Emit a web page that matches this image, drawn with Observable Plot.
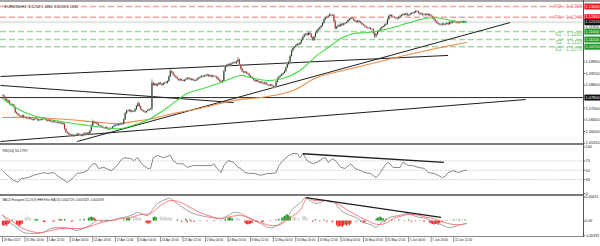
<!DOCTYPE html>
<html>
<head>
<meta charset="utf-8">
<script src="https://cdn.jsdelivr.net/npm/d3@7"></script>
<script src="https://cdn.jsdelivr.net/npm/@observablehq/plot@0.6"></script>
<style>
html,body{margin:0;padding:0;background:#fff;}
#wrap{position:relative;width:600px;height:246px;overflow:hidden;background:#fff;}
#wrap svg{position:absolute;left:0;overflow:visible;}
.sep{position:absolute;}
</style>
</head>
<body>
<div id="wrap"></div>
<script>
// ================= DATA =================
const symbolTitle = "EURUSD,H4  1.1212 1.1220 1.1205 1.1212";
const timeLabels = ["29 Mar 2017","31 Mar 20:00","5 Apr 12:00","10 Apr 04:00","12 Apr 20:00","17 Apr 12:00","20 Apr 04:00","24 Apr 20:00","27 Apr 12:00","2 May 04:00","4 May 20:00","9 May 12:00","12 May 04:00","16 May 20:00","19 May 12:00","24 May 04:00","26 May 20:00","31 May 12:00","5 Jun 04:00","7 Jun 20:00","12 Jun 12:00"];
const timeBars = [0,16,32,48,64,80,96,112,128,144,160,176,192,208,224,240,256,272,288,304,320];

// H4 closes, one per bar
const close = [
1.0800,1.0792,1.0778,1.0765,1.0770,1.0752,1.0745,1.0748,1.0735,1.0705,
1.0698,1.0690,1.0685,1.0680,1.0688,1.0675,1.0678,1.0672,1.0670,1.0676,
1.0668,1.0662,1.0665,1.0671,1.0669,1.0660,1.0664,1.0662,1.0668,1.0673,
1.0666,1.0660,1.0657,1.0662,1.0655,1.0652,1.0658,1.0650,1.0648,1.0652,
1.0645,1.0642,1.0646,1.0640,1.0612,1.0595,1.0588,1.0582,1.0575,1.0580,
1.0572,1.0576,1.0580,1.0585,1.0578,1.0580,1.0574,1.0582,1.0588,1.0584,
1.0590,1.0585,1.0602,1.0630,1.0652,1.0645,1.0648,1.0640,1.0632,1.0628,
1.0625,1.0620,1.0617,1.0622,1.0614,1.0610,1.0616,1.0615,1.0624,1.0630,
1.0635,1.0632,1.0640,1.0636,1.0642,1.0640,1.0665,1.0700,1.0715,1.0712,
1.0718,1.0708,1.0712,1.0710,1.0722,1.0740,1.0755,1.0738,1.0722,1.0715,
1.0710,1.0705,1.0712,1.0716,1.0722,1.0725,1.0870,1.0858,1.0865,1.0855,
1.0862,1.0870,1.0865,1.0858,1.0868,1.0872,1.0870,1.0880,1.0905,1.0935,
1.0928,1.0915,1.0908,1.0900,1.0892,1.0885,1.0890,1.0884,1.0880,1.0886,
1.0890,1.0898,1.0895,1.0888,1.0892,1.0886,1.0882,1.0885,1.0893,1.0898,
1.0902,1.0908,1.0905,1.0912,1.0910,1.0916,1.0908,1.0912,1.0905,1.0910,
1.0906,1.0905,1.0896,1.0888,1.0880,1.0875,1.0882,1.0935,1.0962,1.0970,
1.0975,1.0968,1.0978,1.0982,1.0985,1.0980,1.0990,1.1000,1.0972,1.0950,
1.0935,1.0928,1.0932,1.0925,1.0920,1.0910,1.0902,1.0895,1.0888,1.0880,
1.0885,1.0878,1.0872,1.0876,1.0870,1.0866,1.0872,1.0862,1.0858,1.0855,
1.0860,1.0854,1.0848,1.0850,1.0875,1.0895,1.0905,1.0910,1.0918,1.0925,
1.0935,1.0955,1.0975,1.0990,1.1020,1.1050,1.1065,1.1072,1.1080,1.1088,
1.1085,1.1095,1.1110,1.1128,1.1140,1.1145,1.1138,1.1150,1.1142,1.1125,
1.1110,1.1128,1.1150,1.1165,1.1172,1.1180,1.1190,1.1205,1.1225,1.1235,
1.1240,1.1245,1.1252,1.1248,1.1250,1.1215,1.1175,1.1185,1.1192,1.1188,
1.1200,1.1195,1.1202,1.1205,1.1210,1.1220,1.1228,1.1235,1.1230,1.1222,
1.1215,1.1210,1.1218,1.1212,1.1205,1.1198,1.1192,1.1186,1.1180,1.1176,
1.1178,1.1172,1.1170,1.1150,1.1130,1.1142,1.1158,1.1165,1.1175,1.1182,
1.1188,1.1195,1.1200,1.1225,1.1245,1.1250,1.1242,1.1240,1.1236,1.1232,
1.1230,1.1238,1.1245,1.1250,1.1255,1.1252,1.1258,1.1248,1.1250,1.1256,
1.1262,1.1260,1.1266,1.1272,1.1270,1.1262,1.1255,1.1258,1.1250,1.1252,
1.1256,1.1250,1.1255,1.1248,1.1242,1.1235,1.1225,1.1215,1.1205,1.1200,
1.1198,1.1195,1.1202,1.1196,1.1200,1.1205,1.1198,1.1210,1.1206,1.1212,
1.1215,1.1210,1.1208,1.1205,1.1210,1.1214,1.1208,1.1215,1.1210,1.1212];
// upper / lower shadows in pips
const upWick = [
4,6,3,5,8,3,4,6,3,5, 4,3,6,2,5,4,3,5,4,6, 3,5,4,3,6,2,4,5,3,4, 5,3,4,6,3,4,2,5,3,4,
4,5,3,4,6,5,3,4,6,3, 5,4,3,6,4,5,3,4,5,3, 4,6,5,8,12,5,6,4,5,3, 4,5,3,4,6,3,5,4,3,6,
4,3,5,4,6,5,8,6,5,4, 5,4,6,3,7,6,10,5,4,3, 4,5,3,6,4,5,20,6,5,4, 5,4,6,3,5,4,6,5,8,12,
6,5,4,3,5,4,6,3,4,5, 4,5,3,6,4,3,5,4,6,5, 4,6,3,5,4,6,3,5,4,5, 4,3,5,6,4,5,6,8,6,5,
5,4,6,5,4,6,5,14,6,5, 6,4,5,3,4,5,3,4,5,4, 5,4,3,5,4,3,5,4,3,4, 4,5,3,4,6,5,4,6,5,4,
5,6,7,5,8,6,5,4,6,5, 5,6,8,5,6,4,5,6,5,7, 5,6,4,5,6,5,4,6,8,5, 6,5,8,5,4,6,10,5,4,6,
5,4,6,5,4,6,5,4,5,6, 4,5,3,4,5,4,3,5,4,3, 4,5,3,6,5,4,3,4,5,4, 4,5,6,5,6,5,4,5,4,3,
4,5,6,4,5,6,4,5,4,5, 5,4,6,5,4,5,6,4,5,4, 5,4,5,4,6,5,6,4,5,4, 4,5,3,4,5,3,4,5,4,5,
4,3,5,4,3,4,3,5,4,3];
const dnWick = [
5,3,6,4,3,6,4,3,5,6, 3,5,4,6,3,5,4,3,6,4, 4,3,5,4,3,6,4,3,5,3, 3,5,4,3,5,4,6,3,4,5,
5,3,4,6,5,8,4,5,6,4, 6,5,4,3,6,4,5,3,4,5, 5,4,6,3,5,4,3,5,4,6, 4,3,5,6,4,5,3,4,5,3,
5,4,3,5,4,6,3,4,5,4, 4,5,3,4,5,4,6,5,4,5, 5,4,6,3,4,5,12,6,4,5, 4,6,5,4,3,5,4,6,5,4,
5,4,6,5,4,6,5,4,3,5, 4,3,5,4,6,5,4,3,5,4, 5,4,3,5,4,3,5,4,6,4, 4,5,6,4,5,8,5,4,3,5,
6,5,4,5,6,4,5,3,6,8, 5,6,4,5,4,6,5,4,6,5, 6,5,4,6,5,4,6,5,4,6, 5,4,6,8,5,4,3,5,4,5,
4,5,4,6,5,4,5,6,4,5, 5,4,6,5,4,6,5,4,5,6, 6,8,5,4,5,6,4,5,4,5, 5,6,4,5,6,8,6,5,6,5,
4,5,6,4,5,4,6,5,4,5, 5,4,5,6,4,5,4,6,5,4, 4,6,5,8,10,5,4,5,4,5, 4,5,4,6,5,4,5,4,5,6,
5,4,5,4,6,5,4,6,5,4, 4,5,4,5,4,6,5,4,5,4, 5,4,6,5,4,8,6,5,4,5, 6,5,4,5,4,5,4,5,6,5,
4,5,4,5,4,3,5,4,5,3];

// moving averages, read at sample bars
const greenMaBars = [0,13,27,46,60,77,84,98,105,117,131,140,155,169,176,188,199,211,223,231,240,249,259,268,277,282,294,306,318,329];
const greenMa = [1.0785,1.0718,1.0678,1.0650,1.0634,1.0617,1.0617,1.0650,1.0673,1.0734,1.0813,1.0835,1.0874,1.0914,1.0902,1.0886,1.0897,1.0942,1.1026,1.1070,1.1121,1.1149,1.1154,1.1166,1.1182,1.1194,1.1222,1.1238,1.1222,1.1210];
const orangeMaBars = [0,22,46,70,82,98,107,121,140,164,188,206,223,247,282,301,329];
const orangeMa = [1.0678,1.0678,1.0667,1.0650,1.0645,1.0662,1.0673,1.0701,1.0729,1.0774,1.0796,1.0830,1.0902,1.0951,1.1020,1.1054,1.1098];

// support / resistance
const levelNames = ["R2","R1","S1","S2","S3"];
const levelValues = [1.1300,1.1240,1.1160,1.1115,1.1075];
const bidPrice = 1.1212;
const hLevel = 1.0790;
const priceTicks = [1.1185,1.0990,1.0925,1.0860,1.0730,1.0665,1.0600,1.0535];

// drawn trendlines (bar, price)
const trendStartBar = [53,-1.42,-1.42,-1.42];
const trendStartPrice = [1.0544,1.0908,1.0858,1.0544];
const trendEndBar = [360,316,164,371];
const trendEndPrice = [1.1210,1.1026,1.0762,1.0779];

// RSI
const rsiTitle = "RSI(14) 50.1799";
const rsiBars = [0,2,8,11,13,18,22,27,29,32,36,41,46,48,53,57,60,64,66,68,72,77,80,85,87,91,93,96,98,100,103,105,107,110,114,117,119,121,124,128,131,135,138,143,148,150,152,155,157,160,164,167,169,172,176,179,183,188,191,194,196,199,203,206,209,211,213,216,220,223,227,229,231,234,236,240,243,247,250,254,257,261,265,268,272,274,277,282,284,288,291,295,299,302,306,309,312,314,316,320,323,327,329];
const rsiValues = [49,43,28,24,32,34,39,43,45,43,45,34,24,28,43,45,49,64,64,54,56,49,56,75,77,75,71,77,67,60,54,54,77,82,77,80,82,71,64,64,56,60,60,60,60,64,54,45,60,71,67,56,54,45,43,43,39,43,43,45,60,71,82,86,86,77,86,71,64,67,75,77,67,75,71,56,54,64,54,49,45,43,34,45,64,67,56,56,67,60,60,56,54,45,43,39,34,37,45,49,45,49,50.18];
const rsiLevels = [70,50,30];
const rsiTicks = [100,70,50,30,0];
const rsiTrendBars = [213,313];
const rsiTrendValues = [85.5,67];

// MACD histogram panel (values in units of 0.0001)
const macdTitle = "MACD Histogram (12,26,9) HHH Filter MA(13) 0.0002729 -0.0007429 -0.0004709";
const macdBars = [0,2,6,11,15,20,25,29,34,39,43,48,53,57,62,67,72,77,82,86,91,96,98,103,106,110,114,119,121,126,131,135,140,148,155,160,164,169,174,178,183,188,192,197,202,206,211,215,218,222,226,229,233,235,238,242,247,252,256,261,265,268,273,277,282,287,291,296,301,306,311,316,319,323,329];
const macdValues = [11.6,4.5,-4.2,-13,-20,-21.7,-21.7,-20,-13,-11.2,-11.2,-13,-16.5,-13,-7.7,1,1,1,4.5,6.3,9.8,15,13.3,9.8,18.6,31,36,40,36,27,18.6,13.3,9.8,6.3,4.5,9.8,15,13.3,6.3,1,-4.2,-11.2,-11.2,-4.2,6.3,22,31,41,36,31,33,36,33,34,24,15,9.8,4.5,-2.5,-6,-11.2,-4.2,4.5,8,9.8,13.3,9.8,6.3,4.5,-2.5,-6,-11.2,-11.2,-7.7,-4.2];
const signalBars = [0,6,13,20,27,34,41,48,55,62,70,77,84,91,98,105,112,119,126,133,140,148,155,162,169,176,183,190,197,204,211,216,221,226,230,235,240,245,249,254,259,263,268,273,277,282,287,291,296,301,306,311,316,320,325,329];
const signalValues = [9.8,1,-11.2,-18,-20,-16.5,-13,-13,-13,-9.5,-2.5,1,4.5,6.3,11.6,13.3,27,36,33,24,15,8,4.5,8,9.8,4.5,-2.5,-7.7,-6,6.3,18.6,40,36,36,36,33,27,18.6,13.3,6.3,1,-4.2,-6,-2.5,4.5,8,11.6,11.6,9.8,6.3,4.5,-0.7,-4.2,-6,-6,-4.2];
const histBars = [0,1,2,3,4,5,7,10,11,12,13,14,16,17,18,19,20,23,24,25,29,30,36,37,40,41,42,44,49,50,55,58,61,62,63,64,65,66,70,74,76,80,86,88,89,90,93,94,95,96,97,98,102,103,104,105,107,108,109,112,113,114,115,116,117,118,119,120,124,127,130,131,133,134,136,140,145,150,155,158,160,161,162,163,166,167,168,172,173,174,175,176,177,180,184,185,190,194,196,198,199,200,201,202,203,204,206,207,208,210,213,214,215,216,220,222,225,228,230,234,237,238,239,240,241,242,243,244,245,246,247,250,251,252,254,256,257,258,265,266,267,268,269,270,271,272,276,278,281,285,288,290,293,296,299,303,304,305,306,307,308,309,310,312,315,318,320,322,324,326,328];
const histValues = [-8,-9,-7,-9,-6,-4,2,-6,-8,-9,-7,-5,5,6,7,6,4,2,3,2,-2,-3,-2,-1,2,3,2,3,-2,-1,2,3,5,6,7,6,5,3,-2,2,1,-1,2,4,5,4,6,7,7,6,5,4,-4,-5,-5,-3,6,7,6,7,7,6,7,6,5,6,5,4,2,-2,3,-3,2,-2,-2,1,-1,-1,1,3,5,6,5,4,5,4,3,-4,-6,-7,-6,-5,-4,-2,-3,-2,-1,2,3,5,6,8,10,11,9,7,6,7,6,5,7,8,7,5,-2,2,-1,2,-2,-3,-8,-11,-10,-9,-11,-8,-7,-9,-6,-8,-5,-3,-4,-3,-2,-4,-3,-2,3,5,6,7,5,4,-2,3,2,-1,2,-1,2,-2,-1,1,-2,-4,-5,-6,-7,-6,-5,-7,-4,-2,1,2,2,3,2,3,2];
const histKinds = ("rrrrrrgrrr"+"rrsssssggg"+"rrrrggrgrr"+"ggggggrrrg"+"grggggssss"+"ssrrrrgggs"+"ssssssssgr"+"grgrrgrrgg"+"ggggsssrrr"+"rrrrrrrggg"+"ggggggssss"+"ssssrgrgrr"+"rrrrrrgrgr"+"rsssrrrsgg"+"ggggrggrgr"+"grrgrrrrrr"+"rrrrgsgsgs"+"g").split("");
const macdTrendBars = [215,311];
const macdTrendValues = [41,6.3];
const macdTickValues = [42,0,-25.5];
const macdTickLabels = ["0.00423","0.00","-0.00392"];

// ================= CHART =================
const FONT = "'Liberation Sans', Arial, sans-serif";
const xDomain = [-1.42, 412.06];           // bar-index domain spanning the 583px plot width
const axisBars = 16 / (583 / (xDomain[1] - xDomain[0])); // width of the axis label boxes in bar units
const colors = {R: "#f7a3a3", S: "#a6d6a6", Rt: "#f08a8a", St: "#6cbf6c", Rb: "#ee1c1c", Sb: "#1f9a2a"};

const bars = close.map((c, i) => {
  const o = i > 0 ? close[i - 1] : close[0];
  return {i, o, c, h: Math.max(o, c) + upWick[i] * 1e-4, l: Math.min(o, c) - dnWick[i] * 1e-4};
});
const levels = levelNames.map((n, k) => ({name: n, v: levelValues[k], kind: n[0], label: `${n} - ${levelValues[k].toFixed(4)}`}));
const trends = trendStartBar.map((b, k) => ({x1: b, y1: trendStartPrice[k], x2: trendEndBar[k], y2: trendEndPrice[k]}));
const green = greenMaBars.map((b, k) => ({i: b, v: greenMa[k]}));
const orange = orangeMaBars.map((b, k) => ({i: b, v: orangeMa[k]}));
const boxes = [
  ...levels.map(d => ({v: d.v, kind: d.kind})),
  {v: bidPrice, kind: "B"}, {v: hLevel, kind: "B"}
];
const boxFill = d => d.kind === "R" ? colors.Rb : d.kind === "S" ? colors.Sb : "#111";

const common = {width: 600, marginLeft: 0, marginRight: 17, x: {domain: xDomain, axis: null}, color: {type: "identity"},
  style: {fontFamily: FONT, background: "transparent", overflow: "visible"}};

const main = Plot.plot({
  ...common, height: 144, marginTop: 3, marginBottom: 1,
  y: {domain: [1.05328, 1.13168], axis: null},
  marks: [
    Plot.ruleY([bidPrice], {stroke: "#e3e3e3", strokeWidth: 2}),
    Plot.ruleY(levels, {y: "v", stroke: d => colors[d.kind], strokeWidth: 1.4, strokeDasharray: "6,3"}),
    Plot.ruleY([hLevel], {stroke: "#2a2a2a", strokeWidth: 1}),
    Plot.link(trends, {x1: "x1", y1: "y1", x2: "x2", y2: "y2", stroke: "#1e1e1e", strokeWidth: 1}),
    Plot.line(orange, {x: "i", y: "v", stroke: "#ef8a3f", strokeWidth: 1.1, curve: "catmull-rom"}),
    Plot.ruleX(bars, {x: "i", y1: "l", y2: "h", stroke: "#a4a4a4", strokeWidth: 1.2}),
    Plot.ruleX(bars, {x: "i", y1: "o", y2: "c", stroke: d => d.c >= d.o ? "#1c3a1c" : "#c21f1f", strokeWidth: 1}),
    Plot.line(green, {x: "i", y: "v", stroke: "#3fdc3f", strokeWidth: 1.1, curve: "catmull-rom"}),
    Plot.text(levels.filter(d => d.kind === "R"), {y: "v", text: "label", frameAnchor: "right", textAnchor: "end", dx: -1, fill: colors.Rt, fontSize: 5.4}),
    Plot.text(levels.filter(d => d.kind === "S"), {y: "v", text: "label", frameAnchor: "right", textAnchor: "end", dx: -1, dy: 3, fill: colors.St, fontSize: 5.4}),
    Plot.ruleY(priceTicks, {y: d => d, x1: xDomain[1], x2: xDomain[1] + 1.4, stroke: "#333", strokeWidth: 0.8}),
    Plot.text(priceTicks, {y: d => d, text: d => d.toFixed(5), frameAnchor: "right", dx: 2, textAnchor: "start", fontSize: 3.9, fill: "#222"}),
    Plot.ruleY(boxes, {y: "v", x1: xDomain[1] + 1, x2: xDomain[1] + 1 + axisBars, stroke: boxFill, strokeWidth: 6}),
    Plot.text(boxes, {y: "v", text: d => d.v.toFixed(5), frameAnchor: "right", dx: 2, textAnchor: "start", fontSize: 3.9, fill: "#fff"}),
    Plot.text([symbolTitle], {frameAnchor: "top-left", dx: 4, dy: 1.6, textAnchor: "start", fontSize: 3.8, fill: "#222"})
  ]
});

const rsi = rsiBars.map((b, k) => ({i: b, v: rsiValues[k]}));
const rsiPlot = Plot.plot({
  ...common, height: 51, marginTop: 2.5, marginBottom: 2,
  y: {domain: [0, 100], axis: null},
  marks: [
    Plot.ruleY(rsiLevels, {stroke: "#b4b4b4", strokeWidth: 0.8, strokeDasharray: "1.2,1.3"}),
    Plot.line(rsi, {x: "i", y: "v", stroke: "#6a6a6a", strokeWidth: 0.8}),
    Plot.link([0], {x1: () => rsiTrendBars[0], y1: () => rsiTrendValues[0], x2: () => rsiTrendBars[1], y2: () => rsiTrendValues[1], stroke: "#1e1e1e", strokeWidth: 1.3}),
    Plot.ruleY(rsiTicks, {y: d => d, x1: xDomain[1], x2: xDomain[1] + 1.4, stroke: "#333", strokeWidth: 0.8}),
    Plot.text(rsiTicks, {y: d => d, text: d => String(d), frameAnchor: "right", dx: 2, textAnchor: "start", fontSize: 3.9, fill: "#222"}),
    Plot.text([rsiTitle], {frameAnchor: "top-left", dx: 2, dy: 2.5, textAnchor: "start", fontSize: 3.4, fill: "#222"})
  ]
});

const macd = macdBars.map((b, k) => ({i: b, v: macdValues[k]}));
const signal = signalBars.map((b, k) => ({i: b, v: signalValues[k]}));
const hist = histBars.map((b, k) => ({i: b, v: histValues[k], k: histKinds[k]}));
const histColor = {g: "#1f9a1f", r: "#ff2626", s: "#d4d4d4"};
const macdDomain = [-27, 43];
const unitsPerPx = (macdDomain[1] - macdDomain[0]) / 40;
const macdPlot = Plot.plot({
  ...common, height: 51, marginTop: 1, marginBottom: 10,
  y: {domain: macdDomain, axis: null},
  marks: [
    Plot.ruleX(hist, {x: "i", y1: 0, y2: "v", stroke: d => histColor[d.k], strokeWidth: 1.4}),
    Plot.line(macd, {x: "i", y: "v", stroke: "#8a8a8a", strokeWidth: 0.8, curve: "catmull-rom"}),
    Plot.line(signal, {x: "i", y: "v", stroke: "#ff5c5c", strokeWidth: 0.8, curve: "catmull-rom"}),
    Plot.link([0], {x1: () => macdTrendBars[0], y1: () => macdTrendValues[0], x2: () => macdTrendBars[1], y2: () => macdTrendValues[1], stroke: "#1e1e1e", strokeWidth: 1.3}),
    Plot.ruleY(macdTickValues, {y: d => d, x1: xDomain[1], x2: xDomain[1] + 1.4, stroke: "#333", strokeWidth: 0.8}),
    Plot.text(macdTickLabels, {y: (d, k) => macdTickValues[k], text: d => d, frameAnchor: "right", dx: 1.8, textAnchor: "start", fontSize: 3.5, fill: "#222"}),
    Plot.text([macdTitle], {frameAnchor: "top-left", dx: 2, dy: 2.5, textAnchor: "start", fontSize: 2.8, fill: "#222"}),
    Plot.ruleX(timeBars, {x: d => d, y1: macdDomain[0], y2: macdDomain[0] - 6 * unitsPerPx, stroke: "#444", strokeWidth: 0.6}),
    Plot.text(timeLabels, {x: (d, k) => timeBars[k], text: d => d, frameAnchor: "bottom", dy: 4.2, dx: 1.2, textAnchor: "start", fontSize: 3, fill: "#222"})
  ]
});

const wrap = document.getElementById("wrap");
[[main, 0], [rsiPlot, 144], [macdPlot, 195]].forEach(([svg, top]) => {
  svg.style.top = top + "px";
  wrap.appendChild(svg);
});
// panel frame lines
[
  {left: 0, top: 0, width: 600, height: 2, bg: "#a6a6a6"},
  {left: 0, top: 143.4, width: 583, height: 1.6, bg: "#7a7a7a"},
  {left: 0, top: 194.4, width: 583, height: 1.6, bg: "#7a7a7a"},
  {left: 0, top: 236, width: 583, height: 1, bg: "#8a8a8a"},
  {left: 583, top: 0, width: 1, height: 237, bg: "#555"}
].forEach(s => {
  const d = document.createElement("div");
  d.className = "sep";
  Object.assign(d.style, {left: s.left + "px", top: s.top + "px", width: s.width + "px", height: s.height + "px", background: s.bg});
  wrap.appendChild(d);
});
</script>
</body>
</html>
